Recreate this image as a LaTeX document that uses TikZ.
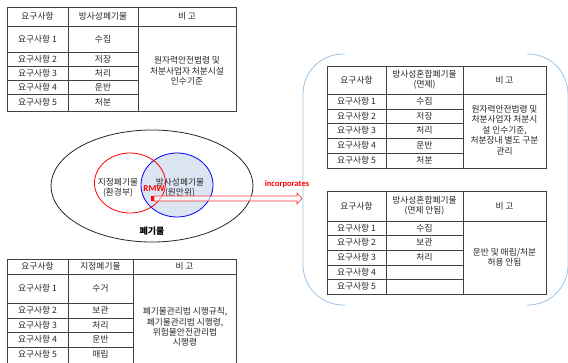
\documentclass[tikz,border=0pt]{standalone}
\usepackage{fontspec}
\setmainfont{Noto Sans CJK KR}
\newfontfamily\calib{Carlito}
\definecolor{framebl}{RGB}{157,195,230}
\definecolor{vennbl}{RGB}{220,229,242}
\begin{document}
\begin{tikzpicture}[x=1pt,y=-1pt,
  tline/.style={draw=black!75, line width=0.9pt},
  txt/.style={font=\fontsize{8.7}{10.4}\selectfont, text=black!85, inner sep=0pt, align=center},
  blueframe/.style={draw=framebl, line width=0.8pt, rounded corners=40pt}]
\useasboundingbox (0,0) rectangle (568,362);
\clip (0,0) rectangle (568,362);

% ---------- Table 1 (top left) ----------
\draw[tline] (7,7) rectangle (236,111);
\draw[tline] (68,7) -- (68,111) (138,7) -- (138,111) (7,26) -- (236,26);
\foreach \yy in {52,66,80,94} \draw[tline] (7,\yy) -- (138,\yy);
\node[txt] (a0) at (37.5,16.5) {요구사항};
\node[txt] (b0) at (103,16.5) {방사성폐기물};
\node[txt] (c0) at (187,16.5) {비 고};
\node[txt] (a1) at (37.5,39) {요구사항 1};
\node[txt] (a2) at (37.5,59) {요구사항 2};
\node[txt] (a3) at (37.5,73) {요구사항 3};
\node[txt] (a4) at (37.5,87) {요구사항 4};
\node[txt] (a5) at (37.5,102.5) {요구사항 5};
\node[txt] (b1) at (103,39) {수집};
\node[txt] (b2) at (103,59) {저장};
\node[txt] (b3) at (103,73) {처리};
\node[txt] (b4) at (103,87) {운반};
\node[txt] (b5) at (103,102.5) {처분};
\node[txt] (c1) at (187,71) {원자력안전법령 및\\처분사업자 처분시설\\인수기준};

% ---------- Table 2 (bottom left) ----------
\draw[tline] (7,370) -- (7,259) -- (236,259) -- (236,370);
\draw[tline] (68,259) -- (68,370) (133,259) -- (133,370) (7,274) -- (236,274);
\foreach \yy in {303,318,332,347} \draw[tline] (7,\yy) -- (133,\yy);
\node[txt] (d0) at (37.5,266.5) {요구사항};
\node[txt] (e0) at (100.5,266.5) {지정폐기물};
\node[txt] (f0) at (184.5,266.5) {비 고};
\node[txt] (d1) at (37.5,288.5) {요구사항 1};
\node[txt] (d2) at (37.5,310.5) {요구사항 2};
\node[txt] (d3) at (37.5,325) {요구사항 3};
\node[txt] (d4) at (37.5,339.5) {요구사항 4};
\node[txt] (d5) at (37.5,354.5) {요구사항 5};
\node[txt] (e1) at (100.5,288.5) {수거};
\node[txt] (e2) at (100.5,310.5) {보관};
\node[txt] (e3) at (100.5,325) {처리};
\node[txt] (e4) at (100.5,339.5) {운반};
\node[txt] (e5) at (100.5,354.5) {매립};
\node[txt] (f1) at (185,327) {폐기물관리법 시행규칙,\\폐기물관리법 시행령,\\위험물안전관리법\\시행령};

% ---------- Venn diagram ----------
\draw[black!85, line width=0.8pt] (152,186) ellipse [x radius=101, y radius=56];
\draw[blue, line width=0.8pt, fill=vennbl] (177,185) ellipse [x radius=36, y radius=32];
\draw[red, line width=0.8pt] (130,183) ellipse [x radius=35.5, y radius=30];
\node[txt] (g1) at (118,187.5) {지정폐기물\\(환경부)};
\node[txt] (g2) at (180,187.5) {방사성폐기물\\(원안위)};
\node[font=\calib\bfseries\fontsize{9}{10}\selectfont, text=red, inner sep=0pt] (rmw) at (154,189) {RMW};
\node[font=\bfseries\fontsize{9}{10}\selectfont, text=black, inner sep=0pt] (waste) at (152,231) {폐기물};

% ---------- Right frame ----------
\draw[blueframe] (345,54) -- (303,54) -- (303,305) -- (345,305);
\draw[blueframe] (527,54) -- (568,54) -- (568,305) -- (527,305);

% ---------- Arrow ----------
\coordinate (tip) at (302,198.5);
\fill[red] (151,196) rectangle (154,201);
\draw[red!80, line width=0.6pt, fill=white, fill opacity=0.6]
  (154,196) -- (297,196) -- (297,193) -- (tip) -- (297,204) -- (297,201) -- (154,201) -- cycle;
\node[font=\calib\bfseries\fontsize{8.5}{10}\selectfont, text=red, inner sep=0pt] (inc) at (287,184) {incorporates};

% ---------- Table 3 (right top) ----------
\draw[tline] (327,66) rectangle (546,168);
\draw[tline] (386,66) -- (386,168) (463,66) -- (463,168) (327,94) -- (546,94);
\foreach \yy in {109,123,138,153} \draw[tline] (327,\yy) -- (463,\yy);
\node[txt] (h0) at (356.5,80) {요구사항};
\node[txt] (i0) at (424.5,80) {방사성혼합폐기물\\(면제)};
\node[txt] (j0) at (504.5,80) {비 고};
\node[txt] (h1) at (356.5,101.5) {요구사항 1};
\node[txt] (h2) at (356.5,116) {요구사항 2};
\node[txt] (h3) at (356.5,130.5) {요구사항 3};
\node[txt] (h4) at (356.5,145.5) {요구사항 4};
\node[txt] (h5) at (356.5,160.5) {요구사항 5};
\node[txt] (i1) at (424.5,101.5) {수집};
\node[txt] (i2) at (424.5,116) {저장};
\node[txt] (i3) at (424.5,130.5) {처리};
\node[txt] (i4) at (424.5,145.5) {운반};
\node[txt] (i5) at (424.5,160.5) {처분};
\node[txt] (j1) at (504.5,130) {원자력안전법령 및\\처분사업자 처분시\\설 인수기준,\\처분장내 별도 구분\\관리};

% ---------- Table 4 (right bottom) ----------
\draw[tline] (327,191) rectangle (546,294);
\draw[tline] (386,191) -- (386,294) (463,191) -- (463,294) (327,221) -- (546,221);
\foreach \yy in {235,250,265,279} \draw[tline] (327,\yy) -- (463,\yy);
\node[txt] (k0) at (356.5,206) {요구사항};
\node[txt] (l0) at (424.5,206) {방사성혼합폐기물\\(면제 안됨)};
\node[txt] (m0) at (504.5,206) {비 고};
\node[txt] (k1) at (356.5,228) {요구사항 1};
\node[txt] (k2) at (356.5,242.5) {요구사항 2};
\node[txt] (k3) at (356.5,257.5) {요구사항 3};
\node[txt] (k4) at (356.5,272) {요구사항 4};
\node[txt] (k5) at (356.5,286.5) {요구사항 5};
\node[txt] (l1) at (424.5,228) {수집};
\node[txt] (l2) at (424.5,242.5) {보관};
\node[txt] (l3) at (424.5,257.5) {처리};
\node[txt] (m1) at (504.5,257) {운반 및 매립/처분\\허용 안됨};
\end{tikzpicture}
\end{document}
